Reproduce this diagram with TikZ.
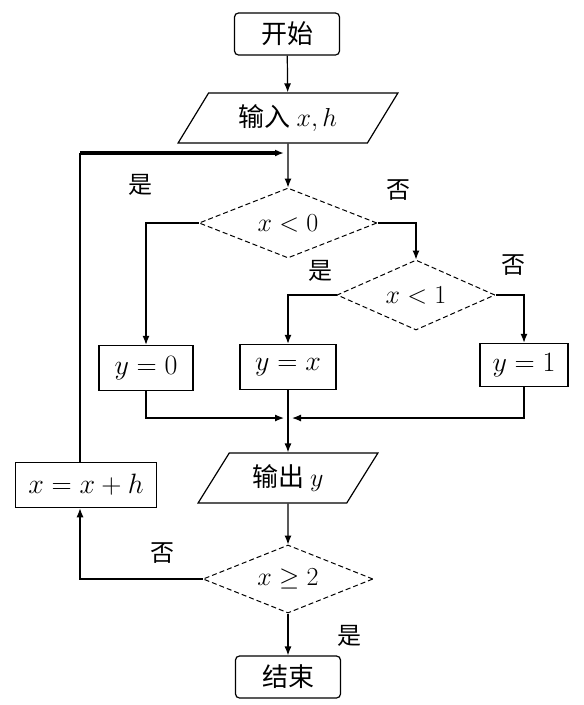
\RequirePackage{fix-cm}
\documentclass[tikz,border=0pt]{standalone}
\usepackage{fontspec}
\newfontfamily\cjk{Noto Sans CJK SC}
\usetikzlibrary{shapes,arrows.meta,positioning}

\begin{document}
\begin{tikzpicture}[x=1pt, y=-1pt,
    term/.style={rectangle, rounded corners=4pt, draw=black, line width=1.2pt, minimum width=105pt, minimum height=42pt, font=\fontsize{26}{30}\selectfont\cjk},
    io/.style={trapezium, trapezium left angle=55, trapezium right angle=125, trapezium stretches=true, draw=black, line width=1.2pt, minimum height=50pt, inner sep=0pt, font=\fontsize{26}{30}\selectfont\cjk},
    decide/.style={diamond, aspect=2.5, draw=black, dash pattern=on 5pt off 3pt, line width=1pt, inner sep=0pt, font=\fontsize{26}{30}\selectfont},
    proc/.style={rectangle, draw=black, line width=1.5pt, minimum height=45pt, inner sep=0pt, font=\fontsize{28}{32}\selectfont},
    lbl/.style={font=\fontsize{24}{28}\selectfont\cjk},
    line/.style={line width=1.2pt},
    arrow/.style={-{Latex[length=9pt,width=7pt]}, line width=1.2pt}
]
    \useasboundingbox (0,0) rectangle (584,705);

    % Bloki
    \node[term] (start) at (287,34) {开始};
    \node[io, minimum width=220pt] (input) at (288,118) {输入 $x,h$};
    \node[decide, minimum width=178pt, minimum height=70pt] (lt0) at (288,223) {$x<0$};
    \node[decide, minimum width=158pt, minimum height=70pt] (lt1) at (416,295) {$x<1$};
    \node[proc, minimum width=94pt] (yzero) at (146,368) {$y=0$};
    \node[proc, minimum width=96pt] (yx) at (288,367) {$y=x$};
    \node[proc, minimum width=88pt, minimum height=43pt] (yone) at (524,365) {$y=1$};
    \node[io, minimum width=180pt] (output) at (288,478) {输出 $y$};
    \node[decide, minimum width=170pt, minimum height=68pt] (ge2) at (288,579) {$x\geq 2$};
    \node[proc, minimum width=141pt] (step) at (86,485) {$x = x+h$};
    \node[term] (stop) at (288,677) {结束};

    \coordinate (merge) at (288,418);
    \coordinate (join) at (288,153);
    \coordinate (corner) at (80,153);

    % Strzalki
    \draw[arrow] (start) -- (input);
    \draw[arrow] (input) -- (lt0);
    \draw[arrow] (lt0.west) -| (yzero.north);
    \draw[arrow] (lt0.east) -| (lt1.north);
    \draw[arrow] (lt1.west) -| (yx.north);
    \draw[arrow] (lt1.east) -| (yone.north);
    \draw[arrow] (yzero.south) |- ([xshift=-4pt]merge);
    \draw[arrow] (yone.south) |- ([xshift=4pt]merge);
    \draw[arrow] (yx) -- (output);
    \draw[arrow] (output) -- (ge2);
    \draw[arrow] (ge2) -- (stop);

    % Petla
    \draw[arrow] (ge2.west) -| ([xshift=-6pt]step.south);
    \draw[line] ([xshift=-6pt]step.north) -- (corner);
    \draw[arrow, line width=3.5pt] (corner) -- ([xshift=-4pt]join);

    % Etykiety
    \node[lbl] (yes1) at (140,185) {是};
    \node[lbl] (no1) at (398,190) {否};
    \node[lbl] (yes2) at (320,271) {是};
    \node[lbl] (no2) at (513,265) {否};
    \node[lbl] (no3) at (162,553) {否};
    \node[lbl] (yes3) at (349,636) {是};
\end{tikzpicture}
\end{document}
